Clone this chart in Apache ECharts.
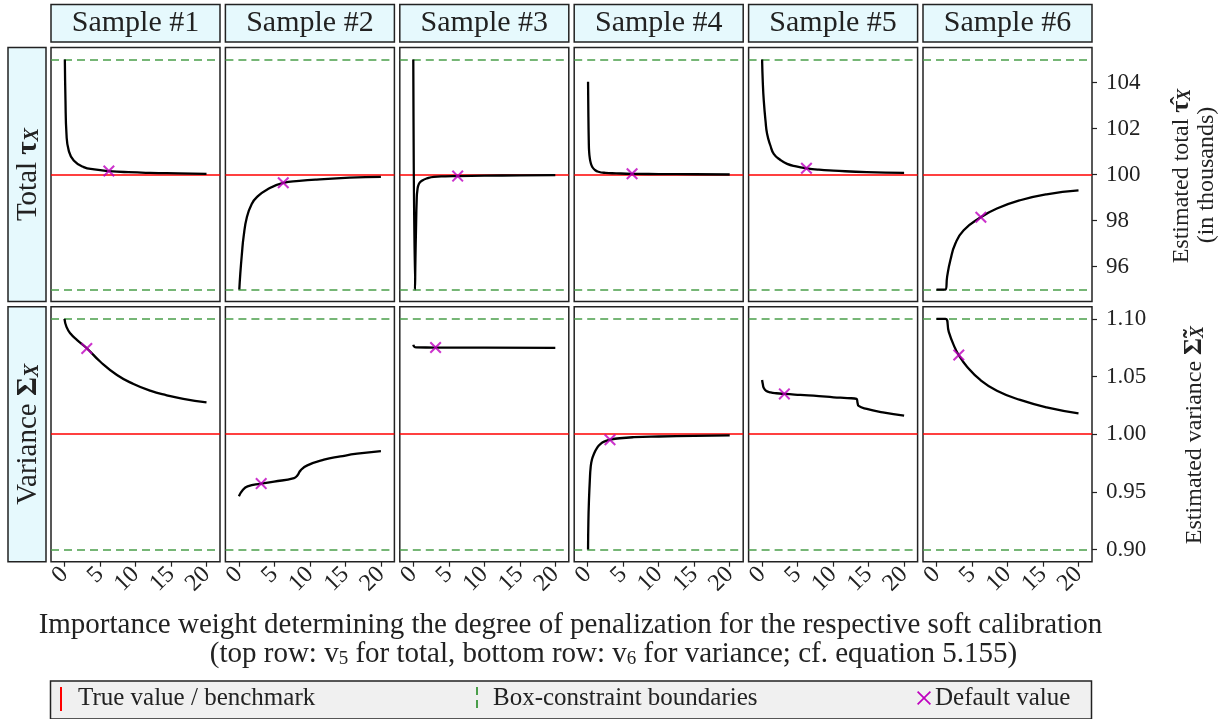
<!DOCTYPE html>
<html><head><meta charset="utf-8">
<script src="https://cdn.jsdelivr.net/npm/echarts@6/dist/echarts.min.js"></script>
<style>html,body{margin:0;padding:0;background:#fff}#c{width:1226px;height:719px}</style>
</head><body><div id="c"></div>
<script>
// ---------- data ----------
const samples = ['Sample #1', 'Sample #2', 'Sample #3', 'Sample #4', 'Sample #5', 'Sample #6'];
const xTicks = [0, 5, 10, 15, 20];
const totalTicks = [96, 98, 100, 102, 104];
const varTicks = [0.90, 0.95, 1.00, 1.05, 1.10];
const totalTrue = 100;
const totalBounds = [95, 105];
const varTrue = 1.0;
const varBounds = [0.90, 1.10];
const totalDefaultWeight = 6.25;
const varDefaultWeight = 3.14;
const totalDefaults = [100.15, 99.64, 99.93, 100.03, 100.27, 98.14];
const varDefaults = [1.0743, 0.9572, 1.0751, 0.9952, 1.0349, 1.0686];

const total1 = [[0.05,105],[0.14,103.2],[0.28,101.76],[0.6,101.04],[1.3,100.61],[2.71,100.32],[4.2,100.22],[6.25,100.15],[9,100.1],[12.06,100.07],[16,100.05],[20,100.03]];
const total2 = [[0.06,95],[0.2,95.7],[0.43,96.57],[0.66,97.29],[1.13,98.15],[1.83,98.73],[2.54,99.02],[3.94,99.34],[6.25,99.64],[8.5,99.72],[10.95,99.78],[15.6,99.86],[20,99.9]];
const total3 = [[0,105],[0.24,95],[0.3,96.3],[0.38,97.6],[0.48,98.9],[0.57,99.3],[0.8,99.6],[1.27,99.74],[2,99.84],[2.9,99.9],[4.5,99.92],[6.25,99.93],[10,99.95],[15,99.96],[20,99.97]];
const total4 = [[0.05,104.03],[0.1,102.5],[0.15,101.5],[0.2,101.0],[0.3,100.7],[0.45,100.48],[0.66,100.32],[1,100.2],[1.5,100.12],[2.5,100.07],[4,100.05],[6.25,100.03],[10,100.02],[15,100.01],[20,100.0]];
const total5 = [[0,105],[0.1,104.0],[0.24,103.2],[0.48,102.34],[0.71,101.76],[1.18,101.25],[1.64,100.9],[2.58,100.63],[3.52,100.46],[4.8,100.35],[6.25,100.27],[8,100.21],[10.06,100.17],[14.74,100.1],[20,100.07]];
const total6 = [[0,95],[1.26,95],[1.5,95.56],[1.96,96.28],[2.66,97.0],[3.83,97.58],[6.17,98.13],[8.51,98.52],[11.78,98.88],[15.5,99.14],[20,99.31]];

const var1 = [[0,1.1],[0.28,1.093],[0.84,1.0872],[1.78,1.0815],[3.18,1.0743],[5.05,1.0628],[7.39,1.0513],[9.72,1.0435],[12.06,1.0377],[14.4,1.0337],[16.73,1.0306],[20,1.0276]];
const var2 = [[0,0.9462],[0.52,0.9514],[1.22,0.9548],[3.1,0.9572],[4.96,0.9589],[7.77,0.962],[8.23,0.9643],[8.7,0.9687],[9.64,0.973],[11.98,0.9779],[14.3,0.9807],[16.65,0.9831],[20,0.9853]];
const var3 = [[0,1.0776],[0.15,1.0758],[0.4,1.0752],[3.14,1.0751],[10,1.075],[20,1.0749]];
const var4 = [[0.05,0.9],[0.1,0.925],[0.18,0.9427],[0.3,0.96],[0.42,0.9715],[0.6,0.978],[0.89,0.983],[1.3,0.988],[1.82,0.9917],[2.5,0.994],[3.14,0.9952],[4.5,0.9965],[6.5,0.9974],[10,0.998],[15,0.9985],[20,0.9989]];
const var5 = [[0,1.047],[0.1,1.0435],[0.24,1.04],[0.6,1.0375],[1.18,1.0363],[2,1.0355],[3.14,1.0349],[5.39,1.034],[8,1.033],[10.06,1.032],[12,1.0313],[13.3,1.0306],[13.45,1.027],[13.6,1.0245],[14.74,1.0219],[17,1.019],[20,1.0161]];
const var6 = [[0,1.1],[1.26,1.1],[1.73,1.0887],[2.43,1.0772],[3.13,1.0686],[4.3,1.0585],[6.17,1.047],[8.51,1.0377],[11.78,1.0297],[15.5,1.0233],[20,1.0181]];

const totals = [total1, total2, total3, total4, total5, total6];
const vars = [var1, var2, var3, var4, var5, var6];

// ---------- layout ----------
const FONT = '"Liberation Serif", "DejaVu Serif", serif';
const TXT = '#222';
const colLeft = i => 51 + i * 174.4;
const W = 169;
const rows = [{ top: 47.5, h: 254 }, { top: 306.7, h: 255 }];
const yRange = [[94.48, 105.52], [0.8895, 1.1105]];
const X_SYM = 'path://M1.2,0 L5,3.8 L8.8,0 L10,1.2 L6.2,5 L10,8.8 L8.8,10 L5,6.2 L1.2,10 L0,8.8 L3.8,5 L0,1.2 Z';
const MAG = '#bf00bf';
const GREEN = '#4a9e4a';

const grids = [], xAxes = [], yAxes = [], series = [];
for (let r = 0; r < 2; r++) {
  for (let c = 0; c < 6; c++) {
    const idx = r * 6 + c;
    grids.push({ left: colLeft(c), top: rows[r].top, width: W, height: rows[r].h, show: true,
      borderColor: '#222', borderWidth: 1.5, backgroundColor: '#fff', outerBoundsMode: 'none', containLabel: false });
    xAxes.push({ gridIndex: idx, type: 'value', min: -1.9, max: 21.9, position: 'bottom',
      splitLine: { show: false }, axisLine: { show: false, onZero: false },
      axisTick: { show: r === 1, customValues: xTicks, length: 5, lineStyle: { color: '#222', width: 1.2 } },
      axisLabel: { show: r === 1, customValues: xTicks, rotate: 45, fontSize: 24, fontFamily: FONT, color: TXT, margin: 9 } });
    const ticks = r === 0 ? totalTicks : varTicks;
    yAxes.push({ gridIndex: idx, type: 'value', min: yRange[r][0], max: yRange[r][1], position: 'right',
      splitLine: { show: false }, axisLine: { show: false, onZero: false },
      axisTick: { show: c === 5, customValues: ticks, length: 5, lineStyle: { color: '#222', width: 1.2 } },
      axisLabel: { show: c === 5, customValues: ticks, fontSize: 23, fontFamily: FONT, color: TXT, margin: 14,
        formatter: v => r === 0 ? String(Math.round(v)) : v.toFixed(2) } });
    const tv = r === 0 ? totalTrue : varTrue;
    const bd = r === 0 ? totalBounds : varBounds;
    series.push({ type: 'line', xAxisIndex: idx, yAxisIndex: idx, data: r === 0 ? totals[c] : vars[c],
      showSymbol: false, smooth: 0.5, z: 3,
      lineStyle: { color: '#000', width: 2.3 },
      markLine: { silent: true, symbol: 'none', label: { show: false }, z: 2,
        data: [
          { yAxis: tv, lineStyle: { color: '#ff0000', width: 1.5, type: 'solid' } },
          { yAxis: bd[0], lineStyle: { color: GREEN, width: 1.5, type: [8, 5] } },
          { yAxis: bd[1], lineStyle: { color: GREEN, width: 1.5, type: [8, 5] } }
        ] } });
    series.push({ type: 'scatter', xAxisIndex: idx, yAxisIndex: idx, z: 5,
      data: [[r === 0 ? totalDefaultWeight : varDefaultWeight, r === 0 ? totalDefaults[c] : varDefaults[c]]],
      symbol: X_SYM, symbolSize: 12, itemStyle: { color: MAG } });
  }
}

// ---------- annotations ----------
const graphic = [];
for (let c = 0; c < 6; c++) {
  graphic.push({ type: 'rect', shape: { x: colLeft(c), y: 4.5, width: W, height: 37.5 },
    style: { fill: '#e6f9fd', stroke: '#222', lineWidth: 1.5 } });
  graphic.push({ type: 'text', x: colLeft(c) + W / 2, y: 23.5,
    style: { text: samples[c], fill: TXT, font: '30px ' + FONT, align: 'center', verticalAlign: 'middle' } });
}
for (let r = 0; r < 2; r++) {
  graphic.push({ type: 'rect', shape: { x: 8, y: rows[r].top, width: 38, height: rows[r].h },
    style: { fill: '#e6f9fd', stroke: '#222', lineWidth: 1.5 } });
}
const richRow = {
  a: { fontSize: 29, fontFamily: FONT, fill: TXT, lineHeight: 32, verticalAlign: 'bottom' },
  b: { fontSize: 29, fontFamily: FONT, fill: TXT, fontWeight: 'bold', lineHeight: 32, verticalAlign: 'bottom' },
  s: { fontSize: 20, fontFamily: FONT, fill: TXT, fontWeight: 'bold', fontStyle: 'italic', lineHeight: 19, verticalAlign: 'bottom' }
};
graphic.push({ type: 'text', x: 27, y: rows[0].top + rows[0].h / 2, rotation: Math.PI / 2,
  style: { text: '{a|Total }{b|τ}{s|X}', rich: richRow, align: 'center', verticalAlign: 'middle' } });
graphic.push({ type: 'text', x: 27, y: rows[1].top + rows[1].h / 2, rotation: Math.PI / 2,
  style: { text: '{a|Variance }{b|Σ}{s|X}', rich: richRow, align: 'center', verticalAlign: 'middle' } });

const richAx = {
  a: { fontSize: 24, fontFamily: FONT, fill: TXT, lineHeight: 28, verticalAlign: 'bottom' },
  b: { fontSize: 26, fontFamily: FONT, fill: TXT, fontWeight: 'bold', lineHeight: 28, verticalAlign: 'bottom' },
  s: { fontSize: 18, fontFamily: FONT, fill: TXT, fontWeight: 'bold', fontStyle: 'italic', lineHeight: 17, verticalAlign: 'bottom' }
};
graphic.push({ type: 'text', x: 1180, y: 176, rotation: Math.PI / 2,
  style: { text: '{a|Estimated total }{b|τ̂}{s|X}', rich: richAx, align: 'center', verticalAlign: 'middle' } });
graphic.push({ type: 'text', x: 1207, y: 175, rotation: Math.PI / 2,
  style: { text: '(in thousands)', fill: TXT, font: '24px ' + FONT, align: 'center', verticalAlign: 'middle' } });
graphic.push({ type: 'text', x: 1193, y: 435, rotation: Math.PI / 2,
  style: { text: '{a|Estimated variance }{b|Σ̃}{s|X}', rich: richAx, align: 'center', verticalAlign: 'middle' } });

// caption
const richCap = {
  a: { fontSize: 29, fontFamily: FONT, fill: TXT, lineHeight: 32, verticalAlign: 'bottom' },
  s: { fontSize: 19, fontFamily: FONT, fill: TXT, lineHeight: 18, verticalAlign: 'bottom' }
};
graphic.push({ type: 'text', x: 570.5, y: 625,
  style: { text: 'Importance weight determining the degree of penalization for the respective soft calibration',
    fill: TXT, font: '29px ' + FONT, align: 'center', verticalAlign: 'middle' } });
graphic.push({ type: 'text', x: 613.5, y: 653,
  style: { text: '{a|(top row: v}{s|5}{a| for total, bottom row: v}{s|6}{a| for variance; cf. equation 5.155)}',
    rich: richCap, align: 'center', verticalAlign: 'middle' } });

// legend
graphic.push({ type: 'rect', shape: { x: 50.5, y: 681, width: 1041, height: 38 },
  style: { fill: '#f0f0f0', stroke: '#222', lineWidth: 1.5 } });
graphic.push({ type: 'line', shape: { x1: 61, y1: 687, x2: 61, y2: 711 }, style: { stroke: '#ff0000', lineWidth: 2 } });
graphic.push({ type: 'text', x: 78, y: 698, style: { text: 'True value / benchmark', fill: TXT, font: '25px ' + FONT, align: 'left', verticalAlign: 'middle' } });
graphic.push({ type: 'line', shape: { x1: 477, y1: 687, x2: 477, y2: 711 }, style: { stroke: GREEN, lineWidth: 2, lineDash: [8, 5] } });
graphic.push({ type: 'text', x: 493, y: 698, style: { text: 'Box-constraint boundaries', fill: TXT, font: '25px ' + FONT, align: 'left', verticalAlign: 'middle' } });
const xs = [[1.2,0],[7,5.8],[12.8,0],[14,1.2],[8.2,7],[14,12.8],[12.8,14],[7,8.2],[1.2,14],[0,12.8],[5.8,7],[0,1.2]];
graphic.push({ type: 'polygon', shape: { points: xs.map(p => [917 + p[0], 691 + p[1]]) }, style: { fill: MAG } });
graphic.push({ type: 'text', x: 935, y: 698, style: { text: 'Default value', fill: TXT, font: '25px ' + FONT, align: 'left', verticalAlign: 'middle' } });

const chart = echarts.init(document.getElementById('c'), null, { renderer: 'canvas' });
chart.setOption({
  animation: false,
  backgroundColor: '#fff',
  grid: grids, xAxis: xAxes, yAxis: yAxes, series: series, graphic: graphic
});
</script>
</body></html>
